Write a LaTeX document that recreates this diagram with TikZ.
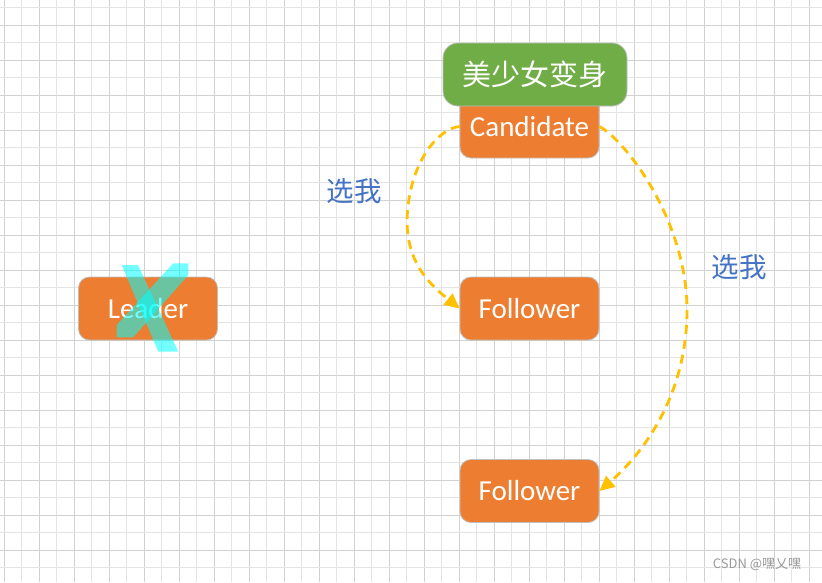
\documentclass[tikz,border=0pt]{standalone}
\usepackage{fontspec}
\setmainfont{Carlito}
\newfontfamily\cjk{Noto Sans CJK SC}
\usetikzlibrary{arrows.meta}
\definecolor{boxorange}{HTML}{ED7D31}
\definecolor{boxgreen}{HTML}{70AD47}
\definecolor{arrowgold}{HTML}{FFC000}
\definecolor{labelblue}{HTML}{4472C4}
\definecolor{gridminor}{HTML}{E4E4E4}
\definecolor{gridmajor}{HTML}{D2D2D2}
\definecolor{boxborder}{HTML}{BFBFBF}
\definecolor{crosscyan}{HTML}{00FFFF}
\tikzset{
  orangebox/.style={rectangle, rounded corners=11pt, fill=boxorange, draw=boxborder, line width=0.8pt,
    minimum width=139pt, minimum height=63pt, inner sep=0pt, text=white,
    font=\fontsize{29}{32}\selectfont},
  greenbox/.style={rectangle, rounded corners=15pt, fill=boxgreen, draw=boxborder, line width=0.8pt,
    minimum width=184pt, minimum height=63pt, inner sep=0pt, text=white,
    font=\cjk\fontsize{29}{31}\selectfont},
  pickarrow/.style={draw=arrowgold, line width=2.8pt, dash pattern=on 9pt off 6pt,
    -{Triangle[length=15pt,width=14pt,fill=arrowgold,sep=0pt]}},
  picklabel/.style={text=labelblue, font=\cjk\fontsize{27.5}{30}\selectfont, inner sep=0pt},
  crossmark/.style={fill=crosscyan, opacity=0.55, draw=none},
  watermark/.style={text=black!40, font=\cjk\fontsize{13}{15}\selectfont, inner sep=0pt}
}
\begin{document}
\begin{tikzpicture}[x=1pt, y=-1pt]
\useasboundingbox (0,0) rectangle (822,582);
\fill[white] (0,0) rectangle (822,582);
% grid
\foreach \k in {0,...,23} {
  \draw[gridminor, line width=0.9pt] ({21.5+35*\k},0) -- ({21.5+35*\k},582);
  \draw[gridmajor, line width=0.9pt] ({4+35*\k},0) -- ({4+35*\k},582);
}
\foreach \k in {0,...,16} {
  \draw[gridminor, line width=0.9pt] (0,{7.5+35*\k}) -- (822,{7.5+35*\k});
  \draw[gridmajor, line width=0.9pt] (0,{25+35*\k}) -- (822,{25+35*\k});
}
% nodes
\node[orangebox] (leader) at (148,308.5) {Leader};
\node[orangebox] (cand) at (529.5,126.5) {Candidate};
\node[greenbox] (title) at (535,74.5) {美少女变身};
\node[orangebox] (f1) at (529.5,308.5) {Follower};
\node[orangebox] (f2) at (529.5,491) {Follower};
% cross on leader
\fill[crossmark] (121.7,265) -- (138,265) -- (178.3,351.7) -- (158.3,351.7) -- cycle;
\fill[crossmark] (173.3,263.3) -- (188.3,263.3) -- (188.3,275) -- (133.3,337.3) -- (116.7,337.3) -- (116.7,325) -- cycle;
% arrows
\coordinate (lmid) at (407,220);
\coordinate (rmid) at (687,310);
\draw[pickarrow] (cand.west) .. controls (440,128) and (409,160) .. (lmid)
  .. controls (407,262) and (428,283) .. (f1.west);
\draw[pickarrow] (cand.east) .. controls (625,140) and (687,220) .. (rmid)
  .. controls (687,400) and (638,458) .. (f2.east);
% labels
\node[picklabel] (lab1) at (354,191) {选我};
\node[picklabel] (lab2) at (739,267) {选我};
\node[watermark] (wm) at (757,565) {CSDN @嘿乂嘿};
\end{tikzpicture}
\end{document}
